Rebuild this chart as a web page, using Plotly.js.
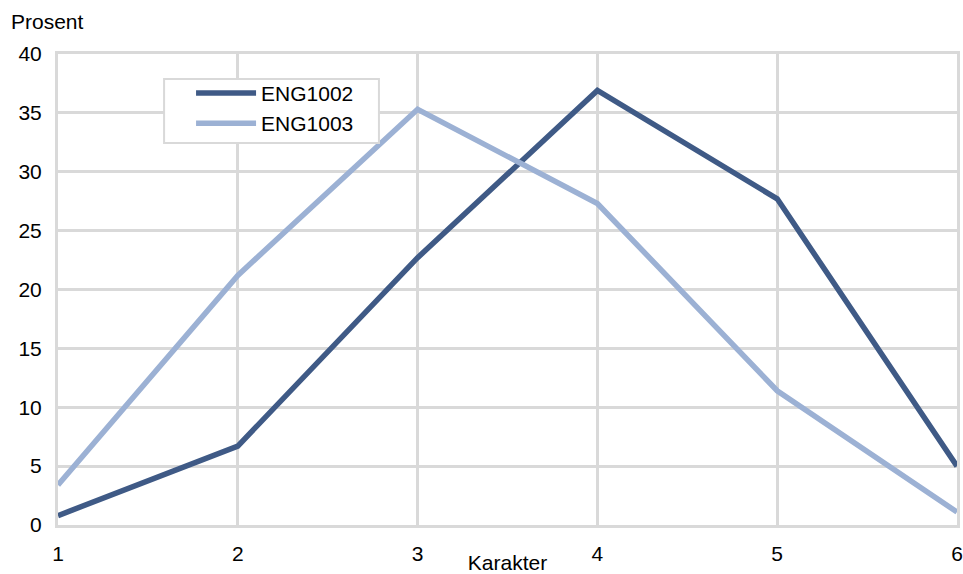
<!DOCTYPE html>
<html>
<head>
<meta charset="utf-8">
<script src="https://cdn.plot.ly/plotly-3.0.1.min.js"></script>
<style>html,body{margin:0;padding:0;background:#fff;}#chart{width:963px;height:574px;}</style>
</head>
<body>
<div id="chart"></div>
<script>
const karakter = [1, 2, 3, 4, 5, 6];
const eng1002 = [0.8, 6.7, 22.7, 36.9, 27.7, 5.0];
const eng1003 = [3.4, 21.2, 35.3, 27.3, 11.4, 1.1];
const seriesNames = ['ENG1002', 'ENG1003'];
const yTicks = [0, 5, 10, 15, 20, 25, 30, 35, 40];

const traces = [
  {x: karakter, y: eng1002, name: seriesNames[0], mode: 'lines', type: 'scatter',
   line: {color: '#3f5a86', width: 5.5}, cliponaxis: false},
  {x: karakter, y: eng1003, name: seriesNames[1], mode: 'lines', type: 'scatter',
   line: {color: '#9cb1d4', width: 5.5}, cliponaxis: false}
];

const FS = 21;
const layout = {
  width: 963, height: 574,
  margin: {l: 58, r: 6, t: 54, b: 49},
  paper_bgcolor: '#ffffff', plot_bgcolor: '#ffffff',
  font: {family: 'Liberation Sans, Arial, sans-serif', size: FS, color: '#000'},
  showlegend: true,
  legend: {x: 0.148, y: 0.96, xanchor: 'left', yanchor: 'top',
    borderwidth: 0, bgcolor: 'rgba(0,0,0,0)',
    font: {size: FS, color: '#000'}, tracegroupgap: 0, itemwidth: 60},
  shapes: [{type: 'rect', xref: 'paper', yref: 'paper', x0: 0.118, x1: 0.357, y0: 0.811, y1: 0.947,
    line: {color: '#d9d9d9', width: 2}, fillcolor: '#ffffff', layer: 'above'}],
  xaxis: {
    range: [1, 6], tickvals: karakter, showgrid: true, gridcolor: '#d9d9d9', gridwidth: 3,
    showline: true, linecolor: '#d9d9d9', linewidth: 3, mirror: true, zeroline: false,
    ticks: 'outside', ticklen: 8, tickcolor: 'rgba(0,0,0,0)',
    tickfont: {size: FS},
    title: {text: 'Karakter', font: {size: FS}, standoff: 0}
  },
  yaxis: {
    range: [0, 40], tickvals: yTicks, showgrid: true, gridcolor: '#d9d9d9', gridwidth: 3,
    showline: true, linecolor: '#d9d9d9', linewidth: 3, mirror: true, zeroline: false,
    ticks: 'outside', ticklen: 9, tickcolor: 'rgba(0,0,0,0)',
    tickfont: {size: FS}
  },
  annotations: [{
    text: 'Prosent', xref: 'paper', yref: 'paper', x: -0.0545, y: 1.068,
    xanchor: 'left', yanchor: 'middle', showarrow: false, font: {size: FS, color: '#000'}
  }]
};

Plotly.newPlot('chart', traces, layout, {displayModeBar: false, staticPlot: true});
</script>
</body>
</html>
